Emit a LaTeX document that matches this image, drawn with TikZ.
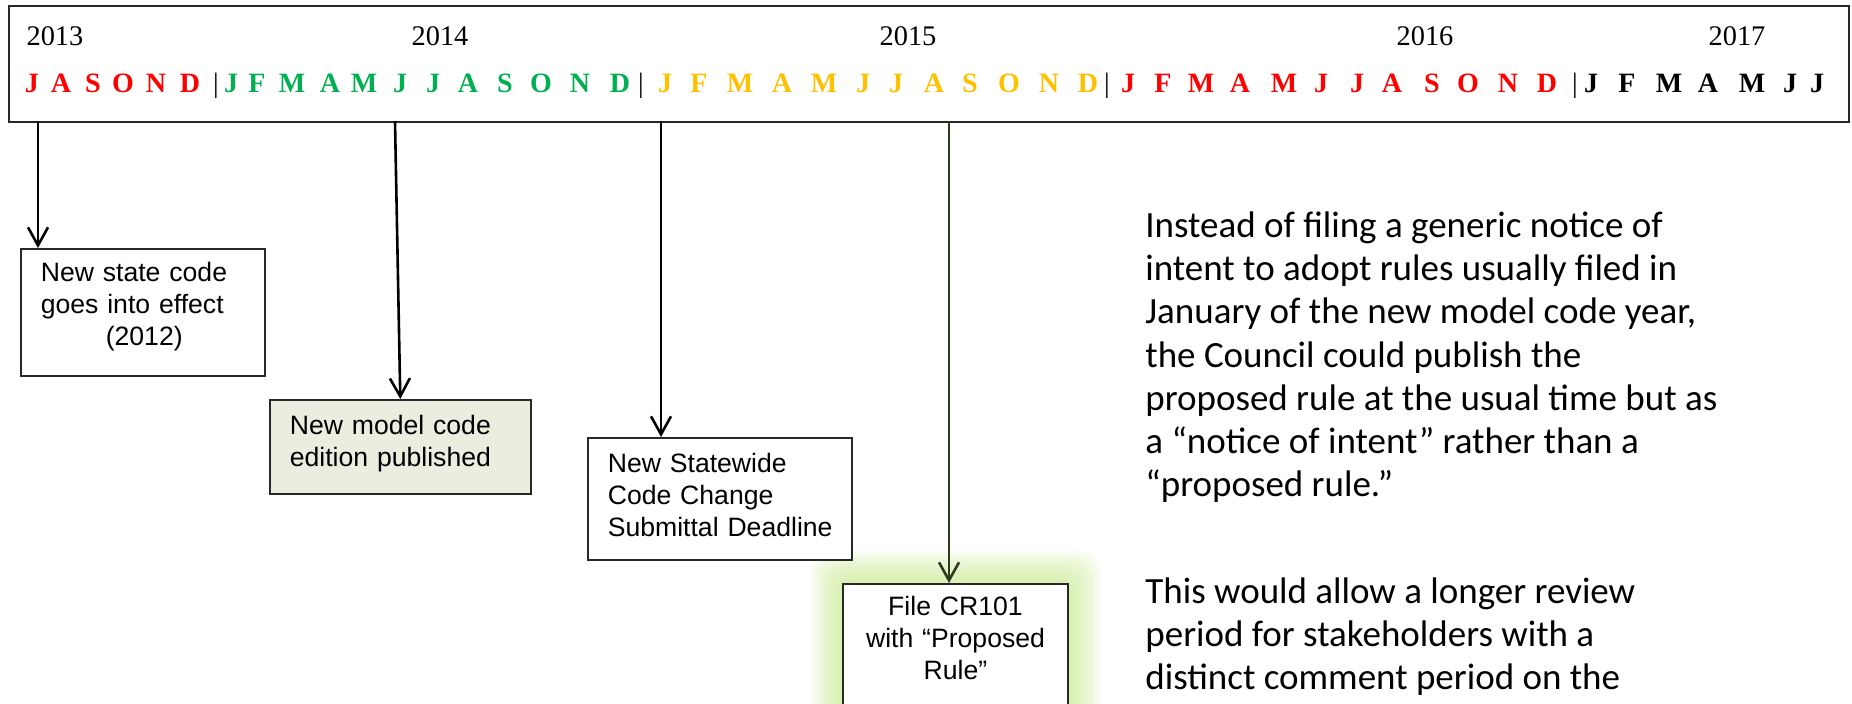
\documentclass[tikz,border=0pt]{standalone}
\usepackage{fontspec}
\setmainfont{Liberation Serif}
\newfontfamily\arialfont{Liberation Sans}
\newfontfamily\calibrifont{Carlito}
\usetikzlibrary{arrows.meta}
\definecolor{monthred}{RGB}{255,0,0}
\definecolor{monthgreen}{RGB}{0,176,80}
\definecolor{monthorange}{RGB}{255,192,0}
\definecolor{editionfill}{RGB}{235,238,222}
\definecolor{glowgreen}{RGB}{195,232,135}
\definecolor{darkolive}{RGB}{45,60,30}
\definecolor{boxline}{RGB}{40,40,40}
\tikzset{>={Straight Barb[length=9pt,width=10pt]}}

\begin{document}
\begin{tikzpicture}[x=0.5pt,y=-0.5pt]
  \tikzset{
    yearlabel/.style={anchor=base, inner sep=0pt, font=\fontsize{14.2}{16}\selectfont},
    monthlabel/.style={anchor=base, inner sep=0pt, font=\bfseries\fontsize{14}{16}\selectfont},
    divider/.style={anchor=base, inner sep=0pt, font=\fontsize{14}{16}\selectfont},
    event/.style={draw=boxline, line width=0.8pt, fill=white, anchor=north west,
      inner xsep=10pt, inner ysep=0pt, align=left, font=\arialfont\fontsize{13.3}{16}\selectfont},
    note/.style={anchor=north west, inner sep=0pt, align=left,
      font=\calibrifont\fontsize{18.5}{21.65}\selectfont},
    timearrow/.style={->, line width=1.3pt}
  }
  \useasboundingbox (0,0) rectangle (1852,703);

  % timeline bar with years and months
  \node[draw=boxline, line width=1pt, minimum width=920pt, minimum height=58pt,
    anchor=north west, inner sep=0pt] (bar) at (8,5) {};
  \foreach \x/\y in {55/2013,440/2014,908/2015,1425/2016,1737/2017}
    \node[yearlabel] (y\y) at (\x,45) {\y};
  \foreach \x/\m [count=\i] in {32/J,61/A,93/S,123/O,156/N,190/D}
    \node[monthlabel, text=monthred] (a\i) at (\x,92) {\m};
  \foreach \x/\m [count=\i] in {231/J,257/F,292/M,330/A,364/M,400/J,433/J,468/A,505/S,541/O,580/N,620/D}
    \node[monthlabel, text=monthgreen] (b\i) at (\x,92) {\m};
  \foreach \x/\m [count=\i] in {665/J,699/F,740/M,782/A,824/M,863/J,896/J,934/A,970/S,1009/O,1049/N,1088/D}
    \node[monthlabel, text=monthorange] (c\i) at (\x,92) {\m};
  \foreach \x/\m [count=\i] in {1128/J,1163/F,1201/M,1240/A,1284/M,1321/J,1357/J,1392/A,1432/S,1468/O,1508/N,1547/D}
    \node[monthlabel, text=monthred] (d\i) at (\x,92) {\m};
  \foreach \x/\m [count=\i] in {1591/J,1627/F,1669/M,1708/A,1752/M,1790/J,1817/J}
    \node[monthlabel] (e\i) at (\x,92) {\m};
  \foreach \x [count=\i] in {216,641,1107,1575}
    \node[divider] (div\i) at (\x,92) {|};

  % glow round the last box
  \foreach \g in {32,29,...,2}
    \fill[glowgreen, opacity=0.09, rounded corners=10pt] (843-\g,583-\g) rectangle (1068+\g,740);

  % events
  \node[event, text width=102pt, text height=16.5pt, text depth=47pt] (effect) at (20,248)
    {New state code\\goes into effect\\\hspace*{32.5pt}(2012)};
  \node[event, fill=editionfill, text width=110.5pt, text height=17.5pt, text depth=29.5pt] (edition) at (269,399)
    {New model code\\edition published};
  \node[event, text width=112pt, text height=17.5pt, text depth=43.5pt] (deadline) at (587,437)
    {New Statewide\\Code Change\\\mbox{Submittal Deadline}};
  \node[event, anchor=north, align=center, text width=92.5pt, text height=16pt, text depth=60pt] (cr101) at (955.5,583)
    {File CR101\\with “Proposed\\Rule”};

  \coordinate (jul13) at (38,121);
  \coordinate (jun14) at (395,121);
  \coordinate (jan15) at (661,121);
  \coordinate (aug15) at (949,121);
  \draw[timearrow] (jul13) -- (jul13 |- effect.north);
  \draw[timearrow] (jun14) -- (edition.north);
  \draw[timearrow] (jan15) -- (jan15 |- deadline.north);
  \draw[timearrow, darkolive] (aug15) -- (aug15 |- cr101.north);

  % notes on the right
  \node[note] (intent) at (1145,211)
    {Instead of filing a generic notice of\\intent to adopt rules usually filed in\\January of the new model code year,\\the Council could publish the\\proposed rule at the usual time but as\\a “notice of intent” rather than a\\“proposed rule.”};
  \node[note] (review) at (1145,577)
    {This would allow a longer review\\period for stakeholders with a\\distinct comment period on the};
\end{tikzpicture}
\end{document}
